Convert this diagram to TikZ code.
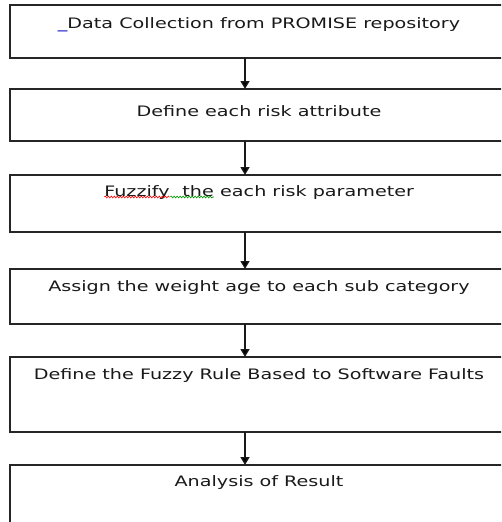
\documentclass[tikz,border=0pt]{standalone}
\usepackage{fontspec}
\usetikzlibrary{arrows.meta,positioning,decorations.pathmorphing}

\newfontfamily\boxfont{DejaVu Sans}[FakeStretch=1.33]
% wavy spell-check style underline in a given colour
\newcommand\spellmark[2]{%
  \tikz[baseline=(w.base)]{%
    \node[inner sep=0pt, outer sep=0pt, text height=, text depth=, minimum width=0pt,
          minimum height=0pt, draw=none, anchor=base] (w) {#2};
    \draw[#1, line width=0.6pt, decorate,
          decoration={snake, amplitude=0.9pt, segment length=3pt}]
      ([yshift=-1pt]w.base west) -- ([yshift=-1pt]w.base east);}}

\begin{document}
\begin{tikzpicture}[
  x=1pt, y=1pt,
  every node/.style={font=\boxfont\fontsize{14.4}{17}\selectfont, text=black!90},
  stage/.style={draw=black!85, line width=1.5pt, minimum width=498pt,
                inner xsep=0pt, inner ysep=0pt, outer sep=0pt},
  arr/.style={-{Triangle[width=9pt,length=8pt]}, line width=1.4pt, draw=black!90}
]
\useasboundingbox (0,0) rectangle (501,-522);
\clip (0,0) rectangle (501,-522);

\node[stage, anchor=north west, text height=23.5pt, text depth=29.5pt] (collect) at (10,-5)
     {{\color{blue!75!black}\_}Data Collection from PROMISE repository};

\node[stage, below=31pt of collect, text height=27pt, text depth=25pt] (define)
     {Define each risk attribute};

\node[stage, below=34pt of define, text height=21pt, text depth=36pt] (fuzzy)
     {\spellmark{red}{Fuzzify}\spellmark{green!60!black}{\ \ the} each risk parameter};

\node[stage, below=37pt of fuzzy, text height=22.7pt, text depth=32.3pt] (weight)
     {Assign the weight age to each sub category};

\node[stage, below=33pt of weight, text height=22pt, text depth=53pt] (rule)
     {Define the Fuzzy Rule Based to Software Faults};

\node[stage, below=33pt of rule, text height=21.5pt, text depth=48.5pt] (result)
     {Analysis of Result};

% Arrows down the left-of-centre spine
\coordinate (spine) at (245,0);
\draw[arr] (collect.south -| spine) -- (define.north -| spine);
\draw[arr] (define.south -| spine)  -- (fuzzy.north -| spine);
\draw[arr] (fuzzy.south -| spine)   -- (weight.north -| spine);
\draw[arr] (weight.south -| spine)  -- (rule.north -| spine);
\draw[arr] (rule.south -| spine)    -- (result.north -| spine);

\end{tikzpicture}
\end{document}
